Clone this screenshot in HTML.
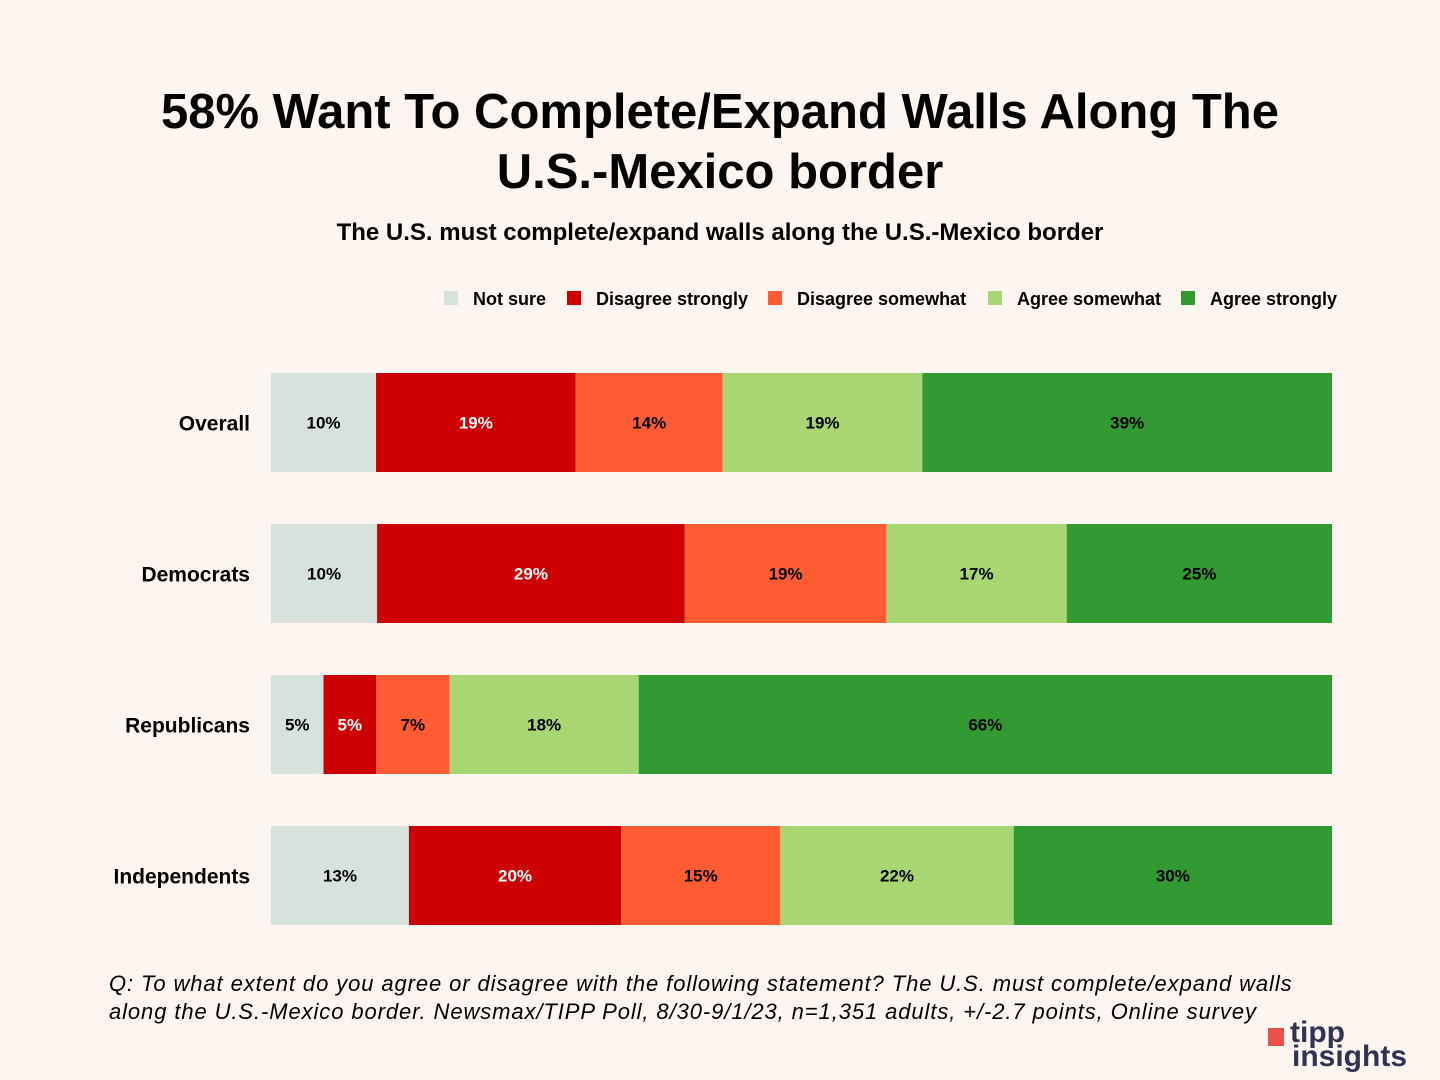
<!DOCTYPE html>
<html><head><meta charset="utf-8"><style>
body{margin:0;width:1440px;height:1080px;background:#fdf5ef;font-family:"Liberation Sans",sans-serif;position:relative;overflow:hidden}
.t{position:absolute;left:0;width:1440px;text-align:center;color:#000}
</style></head><body>
<div class="t" style="top:82px;font-size:49px;font-weight:bold;line-height:60px">58% Want To Complete/Expand Walls Along The<br>U.S.-Mexico border</div>
<div class="t" style="top:219px;font-size:24px;font-weight:bold">The U.S. must complete/expand walls along the U.S.-Mexico border</div>
<svg id="c" width="1440" height="1080" style="position:absolute;left:0;top:0"></svg>
<div style="position:absolute;left:109px;top:970px;font-size:22px;font-style:italic;line-height:28px;letter-spacing:0.9px;color:#000;white-space:nowrap">Q: To what extent do you agree or disagree with the following statement? The U.S. must complete/expand walls<br>along the U.S.-Mexico border. Newsmax/TIPP Poll, 8/30-9/1/23, n=1,351 adults, +/-2.7 points, Online survey</div>
<div style="position:absolute;left:1258px;top:1022px;width:150px;height:55px;color:#2e3452;font-weight:bold">
<div style="position:absolute;left:10px;top:6px;width:16px;height:18px;background:#e8524a"></div>
<div style="position:absolute;left:32px;top:-4px;font-size:30px;line-height:30px">tipp</div>
<div style="position:absolute;left:34px;top:20px;font-size:30px;line-height:30px">insights</div>
</div>
<script>
const categories=["Overall","Democrats","Republicans","Independents"];
const seriesNames=["Not sure","Disagree strongly","Disagree somewhat","Agree somewhat","Agree strongly"];
const notSure=[10,10,5,13];
const disagreeStrongly=[19,29,5,20];
const disagreeSomewhat=[14,19,7,15];
const agreeSomewhat=[19,17,18,22];
const agreeStrongly=[39,25,66,30];
const colors=["#d7e2dc","#cc0000","#ff5c33","#a8d672","#339933"];
const textColors=["#000","#fff","#000","#000","#000"];
const series=[notSure,disagreeStrongly,disagreeSomewhat,agreeSomewhat,agreeStrongly];
const svg=document.getElementById('c');const NS="http://www.w3.org/2000/svg";
const x0=271,x1=1332,top0=373,step=151,bh=99;
function mk(t,a){const e=document.createElementNS(NS,t);for(const k in a)e.setAttribute(k,a[k]);svg.appendChild(e);return e;}
categories.forEach((cat,i)=>{
  const total=series.reduce((s,a)=>s+a[i],0);
  const xs=v=>x0+(x1-x0)*v/total;
  const y=top0+i*step;
  const l=mk('text',{x:250,y:y+bh/2+8,'text-anchor':'end','font-size':21,'font-weight':'bold',fill:'#000'});
  l.textContent=cat;
  
  
  let cum=0;
  series.forEach((arr,j)=>{
    const a=xs(cum),b=xs(cum+arr[i]);cum+=arr[i];
    const r=mk('rect',{x:a,y:y,width:b-a,height:bh,fill:colors[j]});
    
    
    const t=mk('text',{x:(a+b)/2,y:y+bh/2+6,'text-anchor':'middle','font-size':17,'font-weight':'bold',fill:textColors[j]});
    t.textContent=arr[i]+'%';
    
    
  });
});
const legX=[444,567,768,988,1181];
seriesNames.forEach((n,j)=>{
  const r=mk('rect',{x:legX[j],y:291,width:14,height:14,fill:colors[j]});
  
  
  const t=mk('text',{x:legX[j]+29,y:305,'font-size':18,'font-weight':'bold',fill:'#000'});
  t.textContent=n;
  
  
});
</script>
</body></html>
